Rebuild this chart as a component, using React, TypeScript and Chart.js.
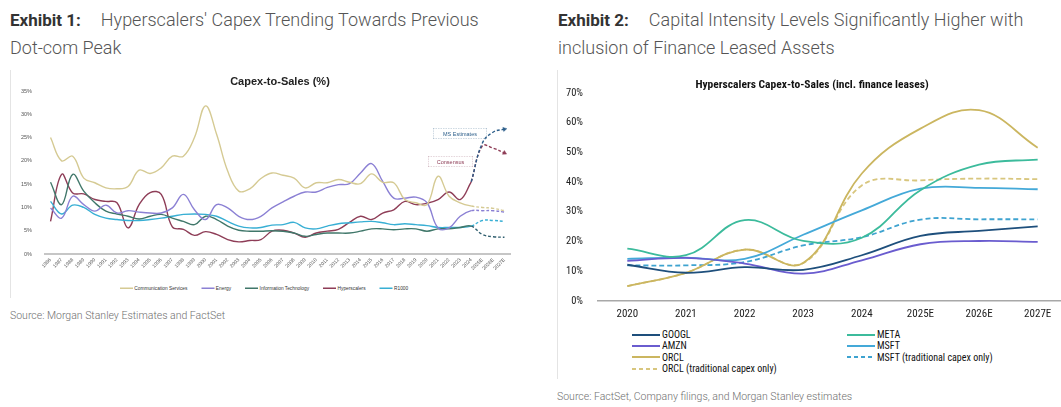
import React, { useEffect, useRef } from "react";
import { Chart, registerables } from "chart.js";

Chart.register(...registerables);

// ---------------- Exhibit 1 data (Capex-to-Sales, %) ----------------
const years1 = [
  "1986", "1987", "1988", "1989", "1990", "1991", "1992", "1993", "1994", "1995",
  "1996", "1997", "1998", "1999", "2000", "2001", "2002", "2003", "2004", "2005",
  "2006", "2007", "2008", "2009", "2010", "2011", "2012", "2013", "2014", "2015",
  "2016", "2017", "2018", "2019", "2020", "2021", "2022", "2023", "2024", "2025E",
  "2026E", "2027E",
];
const commServices = [
  25.0, 20.0, 21.0, 16.3, 15.3, 14.2, 14.0, 14.5, 18.0, 17.3, 18.5, 21.0, 21.0, 25.0,
  31.8, 25.7, 17.8, 13.5, 14.0, 16.2, 17.4, 16.9, 16.3, 14.2, 15.3, 15.3, 16.0, 15.4,
  15.1, 17.2, 15.4, 15.3, 11.7, 11.0, 10.6, 16.7, 12.4, 11.0, 10.3,
  10.0, 9.8, 9.3,
];
const energy = [
  9.9, 7.7, 12.4, 10.6, 9.2, 10.5, 8.8, 9.3, 9.0, 8.8, 8.8, 9.9, 12.8, 9.5,
  7.4, 10.6, 9.9, 8.1, 7.4, 8.1, 9.9, 11.2, 12.4, 13.3, 13.3, 14.3, 14.9, 15.1,
  17.4, 19.4, 15.6, 12.0, 12.0, 12.2, 11.0, 5.6, 5.6, 8.1, 9.3,
  9.3, 9.3, 9.0,
];
const infoTech = [
  15.4, 10.6, 17.1, 13.5, 11.0, 9.2, 8.6, 8.1, 7.5, 8.1, 8.5, 7.7, 7.0, 6.3,
  8.1, 7.4, 6.0, 5.1, 4.9, 4.9, 5.0, 4.9, 4.5, 3.8, 4.2, 4.5, 4.5, 4.5,
  4.9, 5.4, 5.4, 5.2, 5.4, 5.4, 4.9, 5.4, 5.4, 5.7, 6.0,
  4.2, 3.7, 3.6,
];
const hyperscalers = [
  7.0, 17.1, 13.1, 12.9, 11.7, 11.3, 11.0, 5.6, 10.6, 13.2, 12.8, 5.8, 5.3, 4.0,
  4.8, 4.2, 3.1, 2.6, 2.9, 3.1, 4.9, 5.1, 4.5, 3.6, 4.5, 4.9, 5.3, 6.8,
  8.1, 7.4, 8.8, 9.5, 11.3, 10.6, 10.9, 11.7, 13.3, 11.7, 15.5,
];
// 2024 .. 2027E
const hyperMSEstimates = [15.5, 23.8, 26.2, 26.8];
const hyperConsensus = [15.5, 23.2, 22.7, 21.7];
const r1000 = [
  11.3, 8.6, 10.5, 10.0, 8.5, 7.7, 7.4, 7.2, 7.2, 7.4, 7.7, 8.1, 8.5, 8.6,
  8.5, 8.1, 7.0, 6.0, 5.6, 5.7, 6.2, 6.3, 6.8, 5.6, 5.4, 6.0, 6.5, 6.7,
  6.9, 7.0, 6.7, 6.3, 6.5, 6.3, 6.1, 5.7, 5.7, 5.7, 6.0,
  7.2, 7.2, 7.0,
];
const legend1Names = ["Communication Services", "Energy", "Information Technology", "Hyperscalers", "R1000"];

// ---------------- Exhibit 2 data (Capex-to-Sales incl. finance leases, %) ----------------
const years2 = ["2020", "2021", "2022", "2023", "2024", "2025E", "2026E", "2027E"];
const googl = [12.2, 9.5, 11.4, 10.5, 15.4, 21.9, 23.6, 25.1];
const amzn = [13.5, 14.5, 12.6, 9.2, 13.7, 19.1, 20.2, 19.9];
const orcl = [5.0, 9.5, 17.3, 12.8, 42.9, 58.0, 64.2, 51.6];
const meta = [17.6, 15.4, 27.2, 20.2, 21.3, 37.3, 45.9, 47.6];
const msft = [14.2, 14.6, 14.2, 22.3, 30.5, 37.8, 38.1, 37.6];
const msftTrad = [12.0, 12.0, 13.1, 18.7, 21.5, 27.4, 27.5, 27.5];
const orclTrad = [5.0, 9.5, 17.3, 12.8, 38.9, 40.6, 41.2, 41.0];
const legend2Columns = [
  ["GOOGL", "AMZN", "ORCL", "ORCL (traditional capex only)"],
  ["META", "MSFT", "MSFT (traditional capex only)"],
];

// ---------------- styles ----------------
const C1: Record<string, string> = {
  "Communication Services": "#d5ca93",
  Energy: "#8b80d4",
  "Information Technology": "#40776a",
  Hyperscalers: "#8e3d57",
  R1000: "#38afd4",
};
const C1_IT_FCST = "#2f5e6e";
const C1_MS = "#2c5e8a";

const series2 = [
  { name: "GOOGL", data: googl, color: "#1e4f7c", dashed: false },
  { name: "META", data: meta, color: "#3cbb9c", dashed: false },
  { name: "AMZN", data: amzn, color: "#6a5ccf", dashed: false },
  { name: "MSFT", data: msft, color: "#44a9d8", dashed: false },
  { name: "ORCL", data: orcl, color: "#cbb660", dashed: false },
  { name: "MSFT (traditional capex only)", data: msftTrad, color: "#3ea3d0", dashed: true },
  { name: "ORCL (traditional capex only)", data: orclTrad, color: "#d8c67e", dashed: true },
];

const NARROW = "'Liberation Sans Narrow', 'Arial Narrow', 'Roboto Condensed', Arial, sans-serif";
const ARIAL = "'Liberation Sans', Arial, sans-serif";
const ROBOTO = "Roboto, 'Noto Sans', sans-serif";

function makeConfig1(): any {
  const fIdx = years1.indexOf("2024");
  const dashAfter = (ctx: any) => (ctx.p0DataIndex >= fIdx ? [3, 2] : undefined);
  const base = (label: string, data: (number | null)[], color: string, extra: any = {}) => ({
    label,
    data,
    borderColor: color,
    backgroundColor: color,
    borderWidth: 1.4,
    pointRadius: 0,
    tension: 0.4,
    segment: { borderDash: dashAfter },
    ...extra,
  });
  const pad = (vals: number[]) => years1.map((_, i) => (i >= fIdx ? vals[i - fIdx] : null));
  const last = years1.length - 1;
  const arrow = (rot: number, color: string) => ({
    pointStyle: "triangle",
    pointRadius: (ctx: any) => (ctx.dataIndex === last ? 2.4 : 0),
    pointRotation: rot,
    pointBackgroundColor: color,
    pointBorderColor: color,
    pointBorderWidth: 0.5,
    borderDash: [3, 2],
  });
  return {
    type: "line",
    data: {
      labels: years1,
      datasets: [
        base("Communication Services", commServices, C1["Communication Services"]),
        base("Energy", energy, C1.Energy),
        base("Information Technology", infoTech, C1["Information Technology"], {
          segment: {
            borderDash: dashAfter,
            borderColor: (ctx: any) => (ctx.p0DataIndex >= fIdx ? C1_IT_FCST : undefined),
          },
        }),
        base("R1000", r1000, C1.R1000),
        base("Hyperscalers", hyperscalers, C1.Hyperscalers),
        base("MS Estimates", pad(hyperMSEstimates), C1_MS, arrow(78, C1_MS)),
        base("Consensus", pad(hyperConsensus), C1.Hyperscalers, arrow(118, C1.Hyperscalers)),
      ],
    },
    options: {
      responsive: false,
      animation: false,
      events: [],
      layout: { padding: { top: 31, right: 10, left: 0, bottom: 0 } },
      plugins: { legend: { display: false }, tooltip: { enabled: false }, title: { display: false } },
      scales: {
        x: {
          offset: true,
          grid: { display: false, drawTicks: false },
          border: { display: true, color: "#c6c6c6", width: 2 },
          ticks: {
            autoSkip: false,
            maxRotation: 45,
            minRotation: 45,
            padding: 3,
            color: "#555",
            font: { size: 5, family: ARIAL },
          },
          afterFit: (s: any) => {
            s.height = 26;
          },
        },
        y: {
          min: 0,
          max: 35,
          grid: { display: false },
          border: { display: false },
          ticks: {
            stepSize: 5,
            padding: 5,
            color: "#555",
            font: { size: 5.5, family: ARIAL },
            callback: (v: any) => v + "%",
          },
          afterFit: (s: any) => {
            s.width = 35;
          },
        },
      },
    },
  };
}

function makeConfig2(): any {
  return {
    type: "line",
    data: {
      labels: years2,
      datasets: series2.map((s) => ({
        label: s.name,
        data: s.data,
        borderColor: s.color,
        backgroundColor: s.color,
        borderWidth: 1.8,
        borderDash: s.dashed ? [5, 3] : [],
        pointRadius: 0,
        tension: 0.4,
      })),
    },
    options: {
      responsive: false,
      animation: false,
      events: [],
      layout: { padding: { top: 33, right: 0, left: 0, bottom: 0 } },
      plugins: { legend: { display: false }, tooltip: { enabled: false }, title: { display: false } },
      scales: {
        x: {
          offset: true,
          grid: { display: false, drawTicks: false },
          border: { display: true, color: "#a8a8a8", width: 1.5 },
          ticks: { padding: 7, color: "#222", font: { size: 11, family: NARROW } },
          afterFit: (s: any) => {
            s.height = 24;
          },
        },
        y: {
          min: 0,
          max: 70,
          grid: { display: false },
          border: { display: false },
          ticks: {
            stepSize: 10,
            padding: 7,
            color: "#222",
            font: { size: 10.5, family: NARROW },
            callback: (v: any) => v + "%",
          },
          afterFit: (s: any) => {
            s.width = 41;
          },
        },
      },
    },
  };
}

function ChartCanvas({ make, width, height }: { make: () => any; width: number; height: number }) {
  const ref = useRef<HTMLCanvasElement>(null);
  useEffect(() => {
    const chart = new Chart(ref.current as HTMLCanvasElement, make());
    return () => chart.destroy();
  }, []);
  return <canvas ref={ref} width={width} height={height} style={{ width, height, display: "block" }} />;
}

// Renders tiny text at double size and scales it down (avoids any minimum font size).
function Tiny({ left, top, size, children, style }: any) {
  return (
    <div
      style={{
        position: "absolute",
        left,
        top,
        transform: "scale(0.5)",
        transformOrigin: "0 0",
        fontSize: size * 2,
        lineHeight: 1,
        whiteSpace: "nowrap",
        ...style,
      }}
    >
      {children}
    </div>
  );
}

function Heading({ left, num, line1, line2 }: any) {
  return (
    <div
      style={{
        position: "absolute",
        left,
        top: 6,
        fontFamily: ROBOTO,
        fontSize: 18,
        lineHeight: "28px",
        color: "#555",
        fontWeight: 300,
        whiteSpace: "nowrap",
      }}
    >
      <div>
        <span style={{ fontWeight: 700, color: "#333", fontSize: 17, marginRight: 20 }}>{num}</span>
        {line1}
      </div>
      <div>{line2}</div>
    </div>
  );
}

export default function App() {
  const seriesByName: Record<string, any> = {};
  series2.forEach((s) => (seriesByName[s.name] = s));
  return (
    <div
      style={{
        position: "absolute",
        left: 0,
        top: 0,
        width: 1061,
        height: 407,
        overflow: "hidden",
        background: "#fff",
      }}
    >
      <Heading left={10} num="Exhibit 1:" line1="Hyperscalers' Capex Trending Towards Previous" line2="Dot-com Peak" />
      <Heading left={558} num="Exhibit 2:" line1="Capital Intensity Levels Significantly Higher with" line2="inclusion of Finance Leased Assets" />

      {/* ---------- Exhibit 1 ---------- */}
      <div style={{ position: "absolute", left: 10, top: 70, width: 1, height: 228, background: "#e4e4e4" }} />
      <div style={{ position: "absolute", left: 10, top: 60 }}>
        <ChartCanvas make={makeConfig1} width={510} height={220} />
      </div>
      <div
        style={{
          position: "absolute",
          left: 180,
          top: 75,
          width: 200,
          textAlign: "center",
          fontFamily: ARIAL,
          fontWeight: 700,
          fontSize: 11,
          color: "#222",
          lineHeight: "12px",
        }}
      >
        Capex-to-Sales (%)
      </div>
      <Tiny
        left={433}
        top={128}
        size={5.5}
        style={{
          width: 108,
          height: 22,
          border: "1.5px dashed #7f9bb2",
          boxSizing: "border-box",
          color: C1_MS,
          fontFamily: ARIAL,
          display: "flex",
          alignItems: "center",
          justifyContent: "center",
        }}
      >
        MS Estimates
      </Tiny>
      <Tiny
        left={428}
        top={156}
        size={5.5}
        style={{
          width: 90,
          height: 22,
          border: "1.5px dashed #b8919e",
          boxSizing: "border-box",
          color: C1.Hyperscalers,
          fontFamily: ARIAL,
          display: "flex",
          alignItems: "center",
          justifyContent: "center",
        }}
      >
        Consensus
      </Tiny>
      <Tiny left={113} top={285.5} size={4.8} style={{ width: 604, display: "flex", justifyContent: "center", gap: 28, fontFamily: ARIAL, color: "#333" }}>
        {legend1Names.map((n) => (
          <div key={n} style={{ display: "flex", alignItems: "center" }}>
            <div style={{ width: 26, height: 3, background: C1[n], marginRight: 3 }} />
            <span>{n}</span>
          </div>
        ))}
      </Tiny>
      <div
        style={{
          position: "absolute",
          left: 10,
          top: 309,
          fontFamily: ROBOTO,
          fontWeight: 300,
          fontSize: 10.5,
          color: "#6f6f6f",
          whiteSpace: "nowrap",
        }}
      >
        Source: Morgan Stanley Estimates and FactSet
      </div>

      {/* ---------- Exhibit 2 ---------- */}
      <div style={{ position: "absolute", left: 557, top: 70, width: 1, height: 309, background: "#e4e4e4" }} />
      <div style={{ position: "absolute", left: 557, top: 60, width: 504, height: 265, overflow: "hidden" }}>
        <ChartCanvas make={makeConfig2} width={510} height={265} />
      </div>
      <div
        style={{
          position: "absolute",
          left: 662,
          top: 77,
          width: 300,
          textAlign: "center",
          fontFamily: NARROW,
          fontWeight: 700,
          fontSize: 11.5,
          color: "#111",
          lineHeight: "14px",
        }}
      >
        Hyperscalers Capex-to-Sales (incl. finance leases)
      </div>
      {legend2Columns.map((col, ci) => (
        <div
          key={ci}
          style={{
            position: "absolute",
            left: ci === 0 ? 632 : 847,
            top: 329,
            fontFamily: NARROW,
            fontSize: 10,
            color: "#111",
            lineHeight: "11.4px",
          }}
        >
          {col.map((name) => {
            const s = seriesByName[name];
            return (
              <div key={name} style={{ display: "flex", alignItems: "center", height: 11.4, whiteSpace: "nowrap" }}>
                <div
                  style={{
                    width: 28,
                    height: 2,
                    marginRight: 2,
                    background: s.dashed
                      ? `repeating-linear-gradient(90deg, ${s.color} 0 4px, transparent 4px 7px)`
                      : s.color,
                  }}
                />
                <span>{name}</span>
              </div>
            );
          })}
        </div>
      ))}
      <div
        style={{
          position: "absolute",
          left: 557,
          top: 390,
          fontFamily: ROBOTO,
          fontWeight: 300,
          fontSize: 10.5,
          color: "#6f6f6f",
          whiteSpace: "nowrap",
        }}
      >
        Source: FactSet, Company filings, and Morgan Stanley estimates
      </div>
    </div>
  );
}
